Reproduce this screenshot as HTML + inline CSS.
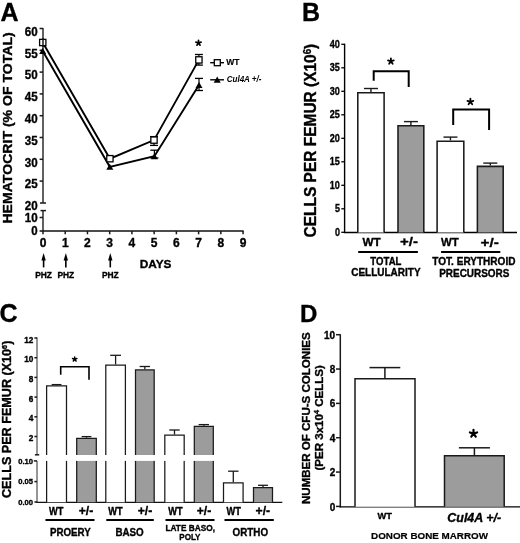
<!DOCTYPE html>
<html><head><meta charset="utf-8"><style>
html,body{margin:0;padding:0;background:#fff;width:520px;height:543px;overflow:hidden}
svg{display:block;filter:grayscale(1)}
text{font-family:"Liberation Sans", sans-serif;stroke:#000;stroke-width:0.35px;stroke-linejoin:round}
</style></head><body>
<svg width="520" height="543" viewBox="0 0 520 543">
<rect width="520" height="543" fill="#fff"/>
<text x="0.40" y="20.80" font-size="25" text-anchor="start" font-weight="bold" font-style="normal" fill="#000">A</text>
<line x1="43.00" y1="28.00" x2="43.00" y2="203.00" stroke="#3a3a3a" stroke-width="1.6" stroke-linecap="butt"/>
<line x1="43.00" y1="210.60" x2="43.00" y2="231.00" stroke="#3a3a3a" stroke-width="1.6" stroke-linecap="butt"/>
<line x1="40.00" y1="203.00" x2="46.00" y2="203.00" stroke="#1a1a1a" stroke-width="1.5" stroke-linecap="butt"/>
<line x1="40.50" y1="210.60" x2="46.00" y2="210.60" stroke="#1a1a1a" stroke-width="1.5" stroke-linecap="butt"/>
<line x1="39.60" y1="28.50" x2="43.00" y2="28.50" stroke="#1a1a1a" stroke-width="1.5" stroke-linecap="butt"/>
<text x="37.70" y="35.70" font-size="12.3" text-anchor="end" font-weight="bold" font-style="normal" fill="#000" textLength="12.90" lengthAdjust="spacingAndGlyphs">60</text>
<line x1="39.60" y1="50.30" x2="43.00" y2="50.30" stroke="#1a1a1a" stroke-width="1.5" stroke-linecap="butt"/>
<text x="37.70" y="57.50" font-size="12.3" text-anchor="end" font-weight="bold" font-style="normal" fill="#000" textLength="12.90" lengthAdjust="spacingAndGlyphs">55</text>
<line x1="39.60" y1="72.10" x2="43.00" y2="72.10" stroke="#1a1a1a" stroke-width="1.5" stroke-linecap="butt"/>
<text x="37.70" y="79.30" font-size="12.3" text-anchor="end" font-weight="bold" font-style="normal" fill="#000" textLength="12.90" lengthAdjust="spacingAndGlyphs">50</text>
<line x1="39.60" y1="93.90" x2="43.00" y2="93.90" stroke="#1a1a1a" stroke-width="1.5" stroke-linecap="butt"/>
<text x="37.70" y="101.10" font-size="12.3" text-anchor="end" font-weight="bold" font-style="normal" fill="#000" textLength="12.90" lengthAdjust="spacingAndGlyphs">45</text>
<line x1="39.60" y1="115.70" x2="43.00" y2="115.70" stroke="#1a1a1a" stroke-width="1.5" stroke-linecap="butt"/>
<text x="37.70" y="122.90" font-size="12.3" text-anchor="end" font-weight="bold" font-style="normal" fill="#000" textLength="12.90" lengthAdjust="spacingAndGlyphs">40</text>
<line x1="39.60" y1="137.50" x2="43.00" y2="137.50" stroke="#1a1a1a" stroke-width="1.5" stroke-linecap="butt"/>
<text x="37.70" y="144.70" font-size="12.3" text-anchor="end" font-weight="bold" font-style="normal" fill="#000" textLength="12.90" lengthAdjust="spacingAndGlyphs">35</text>
<line x1="39.60" y1="159.30" x2="43.00" y2="159.30" stroke="#1a1a1a" stroke-width="1.5" stroke-linecap="butt"/>
<text x="37.70" y="166.50" font-size="12.3" text-anchor="end" font-weight="bold" font-style="normal" fill="#000" textLength="12.90" lengthAdjust="spacingAndGlyphs">30</text>
<line x1="39.60" y1="181.10" x2="43.00" y2="181.10" stroke="#1a1a1a" stroke-width="1.5" stroke-linecap="butt"/>
<text x="37.70" y="188.30" font-size="12.3" text-anchor="end" font-weight="bold" font-style="normal" fill="#000" textLength="12.90" lengthAdjust="spacingAndGlyphs">25</text>
<text x="37.70" y="210.00" font-size="12.3" text-anchor="end" font-weight="bold" font-style="normal" fill="#000" textLength="12.90" lengthAdjust="spacingAndGlyphs">20</text>
<line x1="39.60" y1="217.50" x2="43.00" y2="217.50" stroke="#1a1a1a" stroke-width="1.5" stroke-linecap="butt"/>
<text x="37.70" y="221.60" font-size="12.3" text-anchor="end" font-weight="bold" font-style="normal" fill="#000" textLength="12.90" lengthAdjust="spacingAndGlyphs">10</text>
<text x="37.70" y="234.60" font-size="12.3" text-anchor="end" font-weight="bold" font-style="normal" fill="#000" textLength="6.40" lengthAdjust="spacingAndGlyphs">0</text>
<text transform="translate(11.90,127.90) rotate(-90)" x="0" y="0" font-size="13.3" text-anchor="middle" font-weight="bold" textLength="191.40" lengthAdjust="spacingAndGlyphs">HEMATOCRIT (% OF TOTAL)</text>
<line x1="39.60" y1="231.10" x2="243.60" y2="231.10" stroke="#111" stroke-width="1.5" stroke-linecap="butt"/>
<line x1="43.00" y1="231.00" x2="43.00" y2="234.30" stroke="#1a1a1a" stroke-width="1.5" stroke-linecap="butt"/>
<text x="43.00" y="246.50" font-size="12" text-anchor="middle" font-weight="bold" font-style="normal" fill="#000">0</text>
<line x1="65.23" y1="231.00" x2="65.23" y2="234.30" stroke="#1a1a1a" stroke-width="1.5" stroke-linecap="butt"/>
<text x="65.23" y="246.50" font-size="12" text-anchor="middle" font-weight="bold" font-style="normal" fill="#000">1</text>
<line x1="87.46" y1="231.00" x2="87.46" y2="234.30" stroke="#1a1a1a" stroke-width="1.5" stroke-linecap="butt"/>
<text x="87.46" y="246.50" font-size="12" text-anchor="middle" font-weight="bold" font-style="normal" fill="#000">2</text>
<line x1="109.69" y1="231.00" x2="109.69" y2="234.30" stroke="#1a1a1a" stroke-width="1.5" stroke-linecap="butt"/>
<text x="109.69" y="246.50" font-size="12" text-anchor="middle" font-weight="bold" font-style="normal" fill="#000">3</text>
<line x1="131.92" y1="231.00" x2="131.92" y2="234.30" stroke="#1a1a1a" stroke-width="1.5" stroke-linecap="butt"/>
<text x="131.92" y="246.50" font-size="12" text-anchor="middle" font-weight="bold" font-style="normal" fill="#000">4</text>
<line x1="154.15" y1="231.00" x2="154.15" y2="234.30" stroke="#1a1a1a" stroke-width="1.5" stroke-linecap="butt"/>
<text x="154.15" y="246.50" font-size="12" text-anchor="middle" font-weight="bold" font-style="normal" fill="#000">5</text>
<line x1="176.38" y1="231.00" x2="176.38" y2="234.30" stroke="#1a1a1a" stroke-width="1.5" stroke-linecap="butt"/>
<text x="176.38" y="246.50" font-size="12" text-anchor="middle" font-weight="bold" font-style="normal" fill="#000">6</text>
<line x1="198.61" y1="231.00" x2="198.61" y2="234.30" stroke="#1a1a1a" stroke-width="1.5" stroke-linecap="butt"/>
<text x="198.61" y="246.50" font-size="12" text-anchor="middle" font-weight="bold" font-style="normal" fill="#000">7</text>
<line x1="220.84" y1="231.00" x2="220.84" y2="234.30" stroke="#1a1a1a" stroke-width="1.5" stroke-linecap="butt"/>
<text x="220.84" y="246.50" font-size="12" text-anchor="middle" font-weight="bold" font-style="normal" fill="#000">8</text>
<line x1="243.07" y1="231.00" x2="243.07" y2="234.30" stroke="#1a1a1a" stroke-width="1.5" stroke-linecap="butt"/>
<text x="243.07" y="246.50" font-size="12" text-anchor="middle" font-weight="bold" font-style="normal" fill="#000">9</text>
<text x="139.70" y="268.00" font-size="11.6" text-anchor="start" font-weight="bold" font-style="normal" fill="#000" textLength="31.80" lengthAdjust="spacingAndGlyphs">DAYS</text>
<line x1="43.60" y1="259.00" x2="43.60" y2="267.40" stroke="#000" stroke-width="1.6" stroke-linecap="butt"/>
<path d="M41.40,260.6 L43.60,252.9 L45.80,260.6 Z" fill="#000"/>
<text x="43.60" y="277.50" font-size="9" text-anchor="middle" font-weight="bold" font-style="normal" fill="#000" textLength="16.80" lengthAdjust="spacingAndGlyphs">PHZ</text>
<line x1="65.83" y1="259.00" x2="65.83" y2="267.40" stroke="#000" stroke-width="1.6" stroke-linecap="butt"/>
<path d="M63.63,260.6 L65.83,252.9 L68.03,260.6 Z" fill="#000"/>
<text x="65.83" y="277.50" font-size="9" text-anchor="middle" font-weight="bold" font-style="normal" fill="#000" textLength="16.80" lengthAdjust="spacingAndGlyphs">PHZ</text>
<line x1="110.29" y1="259.00" x2="110.29" y2="267.40" stroke="#000" stroke-width="1.6" stroke-linecap="butt"/>
<path d="M108.09,260.6 L110.29,252.9 L112.49,260.6 Z" fill="#000"/>
<text x="110.29" y="277.50" font-size="9" text-anchor="middle" font-weight="bold" font-style="normal" fill="#000" textLength="16.80" lengthAdjust="spacingAndGlyphs">PHZ</text>
<polyline points="42.75,42.50 109.90,158.70 154.00,140.10 198.90,59.90" fill="none" stroke="#000" stroke-width="1.9" stroke-linejoin="miter"/>
<polyline points="42.70,50.90 109.80,166.80 154.40,156.20 199.00,85.00" fill="none" stroke="#000" stroke-width="1.9" stroke-linejoin="miter"/>
<line x1="198.90" y1="54.50" x2="198.90" y2="65.10" stroke="#000" stroke-width="1.2" stroke-linecap="butt"/>
<line x1="194.90" y1="54.50" x2="202.90" y2="54.50" stroke="#000" stroke-width="1.3" stroke-linecap="butt"/>
<line x1="194.90" y1="65.10" x2="202.90" y2="65.10" stroke="#000" stroke-width="1.3" stroke-linecap="butt"/>
<line x1="154.00" y1="136.60" x2="154.00" y2="145.40" stroke="#000" stroke-width="1.2" stroke-linecap="butt"/>
<line x1="150.00" y1="136.60" x2="158.00" y2="136.60" stroke="#000" stroke-width="1.3" stroke-linecap="butt"/>
<line x1="150.00" y1="145.40" x2="158.00" y2="145.40" stroke="#000" stroke-width="1.3" stroke-linecap="butt"/>
<line x1="199.00" y1="78.40" x2="199.00" y2="90.50" stroke="#000" stroke-width="1.2" stroke-linecap="butt"/>
<line x1="195.00" y1="78.40" x2="203.00" y2="78.40" stroke="#000" stroke-width="1.3" stroke-linecap="butt"/>
<line x1="195.00" y1="90.50" x2="203.00" y2="90.50" stroke="#000" stroke-width="1.3" stroke-linecap="butt"/>
<line x1="154.40" y1="150.20" x2="154.40" y2="158.00" stroke="#000" stroke-width="1.2" stroke-linecap="butt"/>
<line x1="150.40" y1="150.20" x2="158.40" y2="150.20" stroke="#000" stroke-width="1.3" stroke-linecap="butt"/>
<line x1="150.40" y1="158.00" x2="158.40" y2="158.00" stroke="#000" stroke-width="1.3" stroke-linecap="butt"/>
<rect x="39.60" y="39.35" width="6.30" height="6.30" fill="#fff" stroke="#000" stroke-width="1.3"/>
<rect x="106.75" y="155.55" width="6.30" height="6.30" fill="#fff" stroke="#000" stroke-width="1.3"/>
<rect x="150.85" y="136.95" width="6.30" height="6.30" fill="#fff" stroke="#000" stroke-width="1.3"/>
<rect x="195.75" y="56.75" width="6.30" height="6.30" fill="#fff" stroke="#000" stroke-width="1.3"/>
<path d="M42.70,47.87 L46.20,53.93 L39.20,53.93 Z" fill="#000"/>
<path d="M109.80,163.77 L113.30,169.83 L106.30,169.83 Z" fill="#000"/>
<path d="M154.40,153.17 L157.90,159.23 L150.90,159.23 Z" fill="#000"/>
<path d="M199.00,81.97 L202.50,88.03 L195.50,88.03 Z" fill="#000"/>
<line x1="43.00" y1="38.00" x2="43.00" y2="47.00" stroke="#1a1a1a" stroke-width="1.5" stroke-linecap="butt"/>
<path d="M198.50,43.00 L198.50,40.30 M198.50,43.00 L201.07,42.17 M198.50,43.00 L200.09,45.18 M198.50,43.00 L196.91,45.18 M198.50,43.00 L195.93,42.17 " stroke="#000" stroke-width="1.7" stroke-linecap="round" fill="none"/>
<line x1="210.20" y1="62.70" x2="224.00" y2="62.70" stroke="#000" stroke-width="1.4" stroke-linecap="butt"/>
<rect x="214.30" y="59.70" width="6.00" height="6.00" fill="#fff" stroke="#000" stroke-width="1.3"/>
<text x="226.30" y="65.10" font-size="8.5" text-anchor="start" font-weight="bold" font-style="normal" fill="#000" textLength="13.30" lengthAdjust="spacingAndGlyphs" style="stroke-width:0.15px">WT</text>
<line x1="210.20" y1="79.80" x2="224.00" y2="79.80" stroke="#000" stroke-width="1.4" stroke-linecap="butt"/>
<path d="M217.20,76.57 L220.70,82.63 L213.70,82.63 Z" fill="#000"/>
<text x="226.70" y="81.80" font-size="9" text-anchor="start" font-weight="bold" font-style="italic" fill="#000" textLength="34.80" lengthAdjust="spacingAndGlyphs" style="stroke-width:0">Cul4A +/-</text>
<text x="302.10" y="20.80" font-size="25" text-anchor="start" font-weight="bold" font-style="normal" fill="#000">B</text>
<line x1="344.60" y1="43.70" x2="344.60" y2="233.00" stroke="#000" stroke-width="1.4" stroke-linecap="butt"/>
<line x1="341.30" y1="232.30" x2="344.60" y2="232.30" stroke="#000" stroke-width="1.3" stroke-linecap="butt"/>
<text x="339.90" y="235.80" font-size="10.6" text-anchor="end" font-weight="bold" font-style="normal" fill="#000" textLength="5.00" lengthAdjust="spacingAndGlyphs">0</text>
<line x1="341.30" y1="208.80" x2="344.60" y2="208.80" stroke="#000" stroke-width="1.3" stroke-linecap="butt"/>
<text x="339.90" y="212.30" font-size="10.6" text-anchor="end" font-weight="bold" font-style="normal" fill="#000" textLength="5.00" lengthAdjust="spacingAndGlyphs">5</text>
<line x1="341.30" y1="185.30" x2="344.60" y2="185.30" stroke="#000" stroke-width="1.3" stroke-linecap="butt"/>
<text x="339.90" y="188.80" font-size="10.6" text-anchor="end" font-weight="bold" font-style="normal" fill="#000" textLength="10.10" lengthAdjust="spacingAndGlyphs">10</text>
<line x1="341.30" y1="161.80" x2="344.60" y2="161.80" stroke="#000" stroke-width="1.3" stroke-linecap="butt"/>
<text x="339.90" y="165.30" font-size="10.6" text-anchor="end" font-weight="bold" font-style="normal" fill="#000" textLength="10.10" lengthAdjust="spacingAndGlyphs">15</text>
<line x1="341.30" y1="138.30" x2="344.60" y2="138.30" stroke="#000" stroke-width="1.3" stroke-linecap="butt"/>
<text x="339.90" y="141.80" font-size="10.6" text-anchor="end" font-weight="bold" font-style="normal" fill="#000" textLength="10.10" lengthAdjust="spacingAndGlyphs">20</text>
<line x1="341.30" y1="114.80" x2="344.60" y2="114.80" stroke="#000" stroke-width="1.3" stroke-linecap="butt"/>
<text x="339.90" y="118.30" font-size="10.6" text-anchor="end" font-weight="bold" font-style="normal" fill="#000" textLength="10.10" lengthAdjust="spacingAndGlyphs">25</text>
<line x1="341.30" y1="91.30" x2="344.60" y2="91.30" stroke="#000" stroke-width="1.3" stroke-linecap="butt"/>
<text x="339.90" y="94.80" font-size="10.6" text-anchor="end" font-weight="bold" font-style="normal" fill="#000" textLength="10.10" lengthAdjust="spacingAndGlyphs">30</text>
<line x1="341.30" y1="67.80" x2="344.60" y2="67.80" stroke="#000" stroke-width="1.3" stroke-linecap="butt"/>
<text x="339.90" y="71.30" font-size="10.6" text-anchor="end" font-weight="bold" font-style="normal" fill="#000" textLength="10.10" lengthAdjust="spacingAndGlyphs">35</text>
<line x1="341.30" y1="44.30" x2="344.60" y2="44.30" stroke="#000" stroke-width="1.3" stroke-linecap="butt"/>
<text x="339.90" y="47.80" font-size="10.6" text-anchor="end" font-weight="bold" font-style="normal" fill="#000" textLength="10.10" lengthAdjust="spacingAndGlyphs">40</text>
<line x1="343.90" y1="232.50" x2="517.00" y2="232.50" stroke="#000" stroke-width="1.5" stroke-linecap="butt"/>
<text transform="translate(315.60,140.60) rotate(-90)" x="0" y="0" font-size="16.2" text-anchor="middle" font-weight="bold" textLength="193.60" lengthAdjust="spacingAndGlyphs">CELLS PER FEMUR (X10<tspan dy="-4.6" font-size="10">6</tspan><tspan dy="4.6">)</tspan></text>
<path d="M357.80,232.40 V92.68 H384.11 V232.40" fill="#fff" stroke="#1a1a1a" stroke-width="1.55"/>
<line x1="370.95" y1="88.50" x2="370.95" y2="91.90" stroke="#1a1a1a" stroke-width="1.4" stroke-linecap="butt"/>
<line x1="363.95" y1="88.50" x2="377.95" y2="88.50" stroke="#1a1a1a" stroke-width="1.4" stroke-linecap="butt"/>
<path d="M398.00,232.40 V125.78 H423.81 V232.40" fill="#9c9c9c" stroke="#1a1a1a" stroke-width="1.55"/>
<line x1="410.90" y1="121.60" x2="410.90" y2="125.00" stroke="#1a1a1a" stroke-width="1.4" stroke-linecap="butt"/>
<line x1="403.90" y1="121.60" x2="417.90" y2="121.60" stroke="#1a1a1a" stroke-width="1.4" stroke-linecap="butt"/>
<path d="M437.10,232.40 V141.18 H463.81 V232.40" fill="#fff" stroke="#1a1a1a" stroke-width="1.55"/>
<line x1="450.45" y1="137.10" x2="450.45" y2="140.40" stroke="#1a1a1a" stroke-width="1.4" stroke-linecap="butt"/>
<line x1="443.45" y1="137.10" x2="457.45" y2="137.10" stroke="#1a1a1a" stroke-width="1.4" stroke-linecap="butt"/>
<path d="M477.39,232.40 V166.38 H503.20 V232.40" fill="#9c9c9c" stroke="#1a1a1a" stroke-width="1.55"/>
<line x1="490.30" y1="163.10" x2="490.30" y2="165.60" stroke="#1a1a1a" stroke-width="1.4" stroke-linecap="butt"/>
<line x1="483.30" y1="163.10" x2="497.30" y2="163.10" stroke="#1a1a1a" stroke-width="1.4" stroke-linecap="butt"/>
<polyline points="373.70,80.80 373.70,71.20 408.70,71.20 408.70,86.90" fill="none" stroke="#000" stroke-width="2.0" stroke-linejoin="miter"/>
<polyline points="453.20,125.10 453.20,109.60 489.10,109.60 489.10,130.10" fill="none" stroke="#000" stroke-width="2.0" stroke-linejoin="miter"/>
<path d="M390.90,61.40 L390.90,58.40 M390.90,61.40 L393.75,60.47 M390.90,61.40 L392.66,63.83 M390.90,61.40 L389.14,63.83 M390.90,61.40 L388.05,60.47 " stroke="#000" stroke-width="1.8" stroke-linecap="round" fill="none"/>
<path d="M470.40,101.80 L470.40,98.70 M470.40,101.80 L473.35,100.84 M470.40,101.80 L472.22,104.31 M470.40,101.80 L468.58,104.31 M470.40,101.80 L467.45,100.84 " stroke="#000" stroke-width="1.8" stroke-linecap="round" fill="none"/>
<text x="362.50" y="245.90" font-size="11.5" text-anchor="start" font-weight="bold" font-style="normal" fill="#000" textLength="18.20" lengthAdjust="spacingAndGlyphs">WT</text>
<text x="400.00" y="246.40" font-size="13.5" text-anchor="start" font-weight="bold" font-style="normal" fill="#000" textLength="17.90" lengthAdjust="spacingAndGlyphs">+/-</text>
<text x="441.10" y="245.70" font-size="11.5" text-anchor="start" font-weight="bold" font-style="normal" fill="#000" textLength="17.70" lengthAdjust="spacingAndGlyphs">WT</text>
<text x="480.50" y="246.60" font-size="13.5" text-anchor="start" font-weight="bold" font-style="normal" fill="#000" textLength="18.30" lengthAdjust="spacingAndGlyphs">+/-</text>
<line x1="358.20" y1="252.00" x2="417.90" y2="252.00" stroke="#000" stroke-width="2.0" stroke-linecap="butt"/>
<line x1="441.10" y1="252.10" x2="500.30" y2="252.10" stroke="#000" stroke-width="2.0" stroke-linecap="butt"/>
<text x="385.90" y="265.10" font-size="10.1" text-anchor="middle" font-weight="bold" font-style="normal" fill="#000" textLength="31.10" lengthAdjust="spacingAndGlyphs">TOTAL</text>
<text x="385.90" y="276.30" font-size="10.2" text-anchor="middle" font-weight="bold" font-style="normal" fill="#000" textLength="69.30" lengthAdjust="spacingAndGlyphs">CELLULARITY</text>
<text x="473.90" y="265.40" font-size="10.2" text-anchor="middle" font-weight="bold" font-style="normal" fill="#000" textLength="83.10" lengthAdjust="spacingAndGlyphs">TOT. ERYTHROID</text>
<text x="474.30" y="276.50" font-size="10.2" text-anchor="middle" font-weight="bold" font-style="normal" fill="#000" textLength="70.20" lengthAdjust="spacingAndGlyphs">PRECURSORS</text>
<text x="-0.50" y="322.30" font-size="25" text-anchor="start" font-weight="bold" font-style="normal" fill="#000">C</text>
<line x1="37.00" y1="337.50" x2="37.00" y2="454.80" stroke="#7c7c7c" stroke-width="1.6" stroke-linecap="butt"/>
<line x1="37.00" y1="460.90" x2="37.00" y2="502.60" stroke="#7c7c7c" stroke-width="1.6" stroke-linecap="butt"/>
<line x1="34.90" y1="454.80" x2="39.20" y2="454.80" stroke="#1a1a1a" stroke-width="1.5" stroke-linecap="butt"/>
<line x1="34.40" y1="338.00" x2="37.10" y2="338.00" stroke="#1a1a1a" stroke-width="1.5" stroke-linecap="butt"/>
<text x="33.30" y="342.50" font-size="8.2" text-anchor="end" font-weight="bold" font-style="normal" fill="#000">12</text>
<line x1="34.40" y1="357.70" x2="37.10" y2="357.70" stroke="#1a1a1a" stroke-width="1.5" stroke-linecap="butt"/>
<text x="33.30" y="362.20" font-size="8.2" text-anchor="end" font-weight="bold" font-style="normal" fill="#000">10</text>
<line x1="34.40" y1="377.40" x2="37.10" y2="377.40" stroke="#1a1a1a" stroke-width="1.5" stroke-linecap="butt"/>
<text x="33.30" y="381.90" font-size="8.2" text-anchor="end" font-weight="bold" font-style="normal" fill="#000">8</text>
<line x1="34.40" y1="397.10" x2="37.10" y2="397.10" stroke="#1a1a1a" stroke-width="1.5" stroke-linecap="butt"/>
<text x="33.30" y="401.60" font-size="8.2" text-anchor="end" font-weight="bold" font-style="normal" fill="#000">6</text>
<line x1="34.40" y1="416.80" x2="37.10" y2="416.80" stroke="#1a1a1a" stroke-width="1.5" stroke-linecap="butt"/>
<text x="33.30" y="421.30" font-size="8.2" text-anchor="end" font-weight="bold" font-style="normal" fill="#000">4</text>
<line x1="34.40" y1="436.50" x2="37.10" y2="436.50" stroke="#1a1a1a" stroke-width="1.5" stroke-linecap="butt"/>
<text x="33.30" y="441.00" font-size="8.2" text-anchor="end" font-weight="bold" font-style="normal" fill="#000">2</text>
<line x1="33.80" y1="460.90" x2="37.10" y2="460.90" stroke="#1a1a1a" stroke-width="1.5" stroke-linecap="butt"/>
<line x1="34.40" y1="481.60" x2="37.10" y2="481.60" stroke="#1a1a1a" stroke-width="1.5" stroke-linecap="butt"/>
<line x1="34.40" y1="502.00" x2="37.10" y2="502.00" stroke="#1a1a1a" stroke-width="1.5" stroke-linecap="butt"/>
<text x="33.00" y="463.80" font-size="8.0" text-anchor="end" font-weight="bold" font-style="normal" fill="#000" textLength="14.80" lengthAdjust="spacingAndGlyphs">0.10</text>
<text x="33.00" y="484.40" font-size="8.0" text-anchor="end" font-weight="bold" font-style="normal" fill="#000" textLength="14.80" lengthAdjust="spacingAndGlyphs">0.05</text>
<text x="33.00" y="505.20" font-size="8.0" text-anchor="end" font-weight="bold" font-style="normal" fill="#000" textLength="14.80" lengthAdjust="spacingAndGlyphs">0.00</text>
<line x1="36.40" y1="502.30" x2="282.30" y2="502.30" stroke="#111" stroke-width="1.3" stroke-linecap="butt"/>
<text transform="translate(11.00,419.30) rotate(-90)" x="0" y="0" font-size="12" text-anchor="middle" font-weight="bold" textLength="157.40" lengthAdjust="spacingAndGlyphs">CELLS PER FEMUR (X10<tspan dy="-4" font-size="7">6</tspan><tspan dy="4">)</tspan></text>
<path d="M46.61,502.30 V385.93 H66.50 V502.30" fill="#fff" stroke="#1a1a1a" stroke-width="1.25"/>
<line x1="56.55" y1="384.60" x2="56.55" y2="385.30" stroke="#1a1a1a" stroke-width="1.3" stroke-linecap="butt"/>
<line x1="51.65" y1="384.60" x2="61.45" y2="384.60" stroke="#1a1a1a" stroke-width="1.3" stroke-linecap="butt"/>
<path d="M76.70,502.30 V438.32 H96.30 V502.30" fill="#9c9c9c" stroke="#1a1a1a" stroke-width="1.25"/>
<line x1="86.50" y1="436.60" x2="86.50" y2="437.70" stroke="#1a1a1a" stroke-width="1.3" stroke-linecap="butt"/>
<line x1="81.60" y1="436.60" x2="91.40" y2="436.60" stroke="#1a1a1a" stroke-width="1.3" stroke-linecap="butt"/>
<path d="M105.80,502.30 V365.12 H125.40 V502.30" fill="#fff" stroke="#1a1a1a" stroke-width="1.25"/>
<line x1="115.60" y1="355.30" x2="115.60" y2="364.50" stroke="#1a1a1a" stroke-width="1.3" stroke-linecap="butt"/>
<line x1="110.20" y1="355.30" x2="121.00" y2="355.30" stroke="#1a1a1a" stroke-width="1.3" stroke-linecap="butt"/>
<path d="M135.50,502.30 V369.93 H154.19 V502.30" fill="#9c9c9c" stroke="#1a1a1a" stroke-width="1.25"/>
<line x1="144.85" y1="366.50" x2="144.85" y2="369.30" stroke="#1a1a1a" stroke-width="1.3" stroke-linecap="butt"/>
<line x1="139.65" y1="366.50" x2="150.05" y2="366.50" stroke="#1a1a1a" stroke-width="1.3" stroke-linecap="butt"/>
<path d="M164.81,502.30 V435.23 H184.19 V502.30" fill="#fff" stroke="#1a1a1a" stroke-width="1.25"/>
<line x1="174.50" y1="430.00" x2="174.50" y2="434.60" stroke="#1a1a1a" stroke-width="1.3" stroke-linecap="butt"/>
<line x1="169.30" y1="430.00" x2="179.70" y2="430.00" stroke="#1a1a1a" stroke-width="1.3" stroke-linecap="butt"/>
<path d="M194.31,502.30 V426.43 H213.30 V502.30" fill="#9c9c9c" stroke="#1a1a1a" stroke-width="1.25"/>
<line x1="203.80" y1="424.60" x2="203.80" y2="425.80" stroke="#1a1a1a" stroke-width="1.3" stroke-linecap="butt"/>
<line x1="198.60" y1="424.60" x2="209.00" y2="424.60" stroke="#1a1a1a" stroke-width="1.3" stroke-linecap="butt"/>
<path d="M223.50,502.30 V482.93 H243.09 V502.30" fill="#fff" stroke="#1a1a1a" stroke-width="1.25"/>
<line x1="233.30" y1="471.20" x2="233.30" y2="482.30" stroke="#1a1a1a" stroke-width="1.3" stroke-linecap="butt"/>
<line x1="228.10" y1="471.20" x2="238.50" y2="471.20" stroke="#1a1a1a" stroke-width="1.3" stroke-linecap="butt"/>
<path d="M253.50,502.30 V487.52 H272.50 V502.30" fill="#9c9c9c" stroke="#1a1a1a" stroke-width="1.25"/>
<line x1="263.00" y1="485.30" x2="263.00" y2="486.90" stroke="#1a1a1a" stroke-width="1.3" stroke-linecap="butt"/>
<line x1="258.00" y1="485.30" x2="268.00" y2="485.30" stroke="#1a1a1a" stroke-width="1.3" stroke-linecap="butt"/>
<rect x="40" y="455.0" width="240" height="5.9" fill="#fff"/>
<polyline points="60.70,374.80 60.70,366.80 89.00,366.80 89.00,379.80" fill="none" stroke="#000" stroke-width="1.6" stroke-linejoin="miter"/>
<path d="M74.70,359.20 L74.70,356.90 M74.70,359.20 L76.89,358.49 M74.70,359.20 L76.05,361.06 M74.70,359.20 L73.35,361.06 M74.70,359.20 L72.51,358.49 " stroke="#000" stroke-width="1.5" stroke-linecap="round" fill="none"/>
<text x="56.20" y="514.70" font-size="10.0" text-anchor="middle" font-weight="bold" font-style="normal" fill="#000" textLength="14.40" lengthAdjust="spacingAndGlyphs">WT</text>
<text x="86.00" y="515.40" font-size="12.2" text-anchor="middle" font-weight="bold" font-style="normal" fill="#000" textLength="14.60" lengthAdjust="spacingAndGlyphs">+/-</text>
<text x="115.50" y="514.70" font-size="10.0" text-anchor="middle" font-weight="bold" font-style="normal" fill="#000" textLength="14.40" lengthAdjust="spacingAndGlyphs">WT</text>
<text x="145.00" y="515.40" font-size="12.2" text-anchor="middle" font-weight="bold" font-style="normal" fill="#000" textLength="14.60" lengthAdjust="spacingAndGlyphs">+/-</text>
<text x="175.50" y="514.70" font-size="10.0" text-anchor="middle" font-weight="bold" font-style="normal" fill="#000" textLength="14.40" lengthAdjust="spacingAndGlyphs">WT</text>
<text x="204.00" y="515.40" font-size="12.2" text-anchor="middle" font-weight="bold" font-style="normal" fill="#000" textLength="14.60" lengthAdjust="spacingAndGlyphs">+/-</text>
<text x="233.80" y="514.70" font-size="10.0" text-anchor="middle" font-weight="bold" font-style="normal" fill="#000" textLength="14.40" lengthAdjust="spacingAndGlyphs">WT</text>
<text x="262.80" y="515.40" font-size="12.2" text-anchor="middle" font-weight="bold" font-style="normal" fill="#000" textLength="14.60" lengthAdjust="spacingAndGlyphs">+/-</text>
<line x1="45.50" y1="520.00" x2="94.50" y2="520.00" stroke="#000" stroke-width="1.8" stroke-linecap="butt"/>
<line x1="106.30" y1="520.00" x2="153.80" y2="520.00" stroke="#000" stroke-width="1.8" stroke-linecap="butt"/>
<line x1="165.50" y1="520.00" x2="214.50" y2="520.00" stroke="#000" stroke-width="1.8" stroke-linecap="butt"/>
<line x1="224.50" y1="520.00" x2="273.80" y2="520.00" stroke="#000" stroke-width="1.8" stroke-linecap="butt"/>
<text x="70.40" y="536.40" font-size="10.6" text-anchor="middle" font-weight="bold" font-style="normal" fill="#000" textLength="40.80" lengthAdjust="spacingAndGlyphs">PROERY</text>
<text x="129.60" y="536.40" font-size="10.6" text-anchor="middle" font-weight="bold" font-style="normal" fill="#000" textLength="28.30" lengthAdjust="spacingAndGlyphs">BASO</text>
<text x="190.20" y="531.30" font-size="8.8" text-anchor="middle" font-weight="bold" font-style="normal" fill="#000" textLength="49.50" lengthAdjust="spacingAndGlyphs">LATE BASO,</text>
<text x="189.90" y="540.40" font-size="8.9" text-anchor="middle" font-weight="bold" font-style="normal" fill="#000" textLength="21.20" lengthAdjust="spacingAndGlyphs">POLY</text>
<text x="250.30" y="536.40" font-size="10.6" text-anchor="middle" font-weight="bold" font-style="normal" fill="#000" textLength="35.50" lengthAdjust="spacingAndGlyphs">ORTHO</text>
<text x="300.00" y="321.90" font-size="24" text-anchor="start" font-weight="bold" font-style="normal" fill="#000">D</text>
<line x1="340.30" y1="334.20" x2="340.30" y2="507.40" stroke="#1a1a1a" stroke-width="1.5" stroke-linecap="butt"/>
<line x1="336.00" y1="334.70" x2="340.30" y2="334.70" stroke="#1a1a1a" stroke-width="1.5" stroke-linecap="butt"/>
<text x="335.20" y="338.80" font-size="10" text-anchor="end" font-weight="bold" font-style="normal" fill="#000">10</text>
<line x1="336.00" y1="369.04" x2="340.30" y2="369.04" stroke="#1a1a1a" stroke-width="1.5" stroke-linecap="butt"/>
<text x="335.20" y="373.14" font-size="10" text-anchor="end" font-weight="bold" font-style="normal" fill="#000">8</text>
<line x1="336.00" y1="403.38" x2="340.30" y2="403.38" stroke="#1a1a1a" stroke-width="1.5" stroke-linecap="butt"/>
<text x="335.20" y="407.48" font-size="10" text-anchor="end" font-weight="bold" font-style="normal" fill="#000">6</text>
<line x1="336.00" y1="437.72" x2="340.30" y2="437.72" stroke="#1a1a1a" stroke-width="1.5" stroke-linecap="butt"/>
<text x="335.20" y="441.82" font-size="10" text-anchor="end" font-weight="bold" font-style="normal" fill="#000">4</text>
<line x1="336.00" y1="472.06" x2="340.30" y2="472.06" stroke="#1a1a1a" stroke-width="1.5" stroke-linecap="butt"/>
<text x="335.20" y="476.16" font-size="10" text-anchor="end" font-weight="bold" font-style="normal" fill="#000">2</text>
<line x1="336.00" y1="506.40" x2="340.30" y2="506.40" stroke="#1a1a1a" stroke-width="1.5" stroke-linecap="butt"/>
<text x="335.20" y="510.50" font-size="10" text-anchor="end" font-weight="bold" font-style="normal" fill="#000">0</text>
<line x1="339.60" y1="506.80" x2="520.50" y2="506.80" stroke="#000" stroke-width="1.3" stroke-linecap="butt"/>
<text transform="translate(309.80,418.15) rotate(-90)" x="0" y="0" font-size="10.9" text-anchor="middle" font-weight="bold" textLength="171.80" lengthAdjust="spacingAndGlyphs">NUMBER OF CFU-S COLONIES</text>
<text transform="translate(323.40,417.85) rotate(-90)" x="0" y="0" font-size="11.2" text-anchor="middle" font-weight="bold" textLength="105.40" lengthAdjust="spacingAndGlyphs">(PER 3x10<tspan dy="-4" font-size="7">4</tspan><tspan dy="4"> CELLS)</tspan></text>
<path d="M355.00,506.80 V378.85 H415.00 V506.80" fill="#fff" stroke="#1a1a1a" stroke-width="1.5"/>
<line x1="384.90" y1="367.60" x2="384.90" y2="378.10" stroke="#1a1a1a" stroke-width="1.5" stroke-linecap="butt"/>
<line x1="369.50" y1="367.60" x2="400.30" y2="367.60" stroke="#1a1a1a" stroke-width="1.5" stroke-linecap="butt"/>
<path d="M444.50,506.80 V455.85 H504.20 V506.80" fill="#9c9c9c" stroke="#1a1a1a" stroke-width="1.5"/>
<line x1="474.40" y1="447.80" x2="474.40" y2="455.10" stroke="#1a1a1a" stroke-width="1.5" stroke-linecap="butt"/>
<line x1="458.90" y1="447.80" x2="489.90" y2="447.80" stroke="#1a1a1a" stroke-width="1.5" stroke-linecap="butt"/>
<path d="M473.50,433.60 L473.50,429.80 M473.50,433.60 L477.11,432.43 M473.50,433.60 L475.73,436.67 M473.50,433.60 L471.27,436.67 M473.50,433.60 L469.89,432.43 " stroke="#000" stroke-width="2.2" stroke-linecap="round" fill="none"/>
<text x="384.80" y="519.20" font-size="9.9" text-anchor="middle" font-weight="bold" font-style="normal" fill="#000" textLength="14.40" lengthAdjust="spacingAndGlyphs">WT</text>
<text x="474.20" y="521.60" font-size="12" text-anchor="middle" font-weight="bold" font-style="italic" fill="#000" textLength="53.70" lengthAdjust="spacingAndGlyphs">Cul4A +/-</text>
<text x="429.50" y="539.20" font-size="9.9" text-anchor="middle" font-weight="bold" font-style="normal" fill="#000" textLength="116.90" lengthAdjust="spacingAndGlyphs" style="stroke-width:0.2px">DONOR BONE MARROW</text>
</svg>
</body></html>
